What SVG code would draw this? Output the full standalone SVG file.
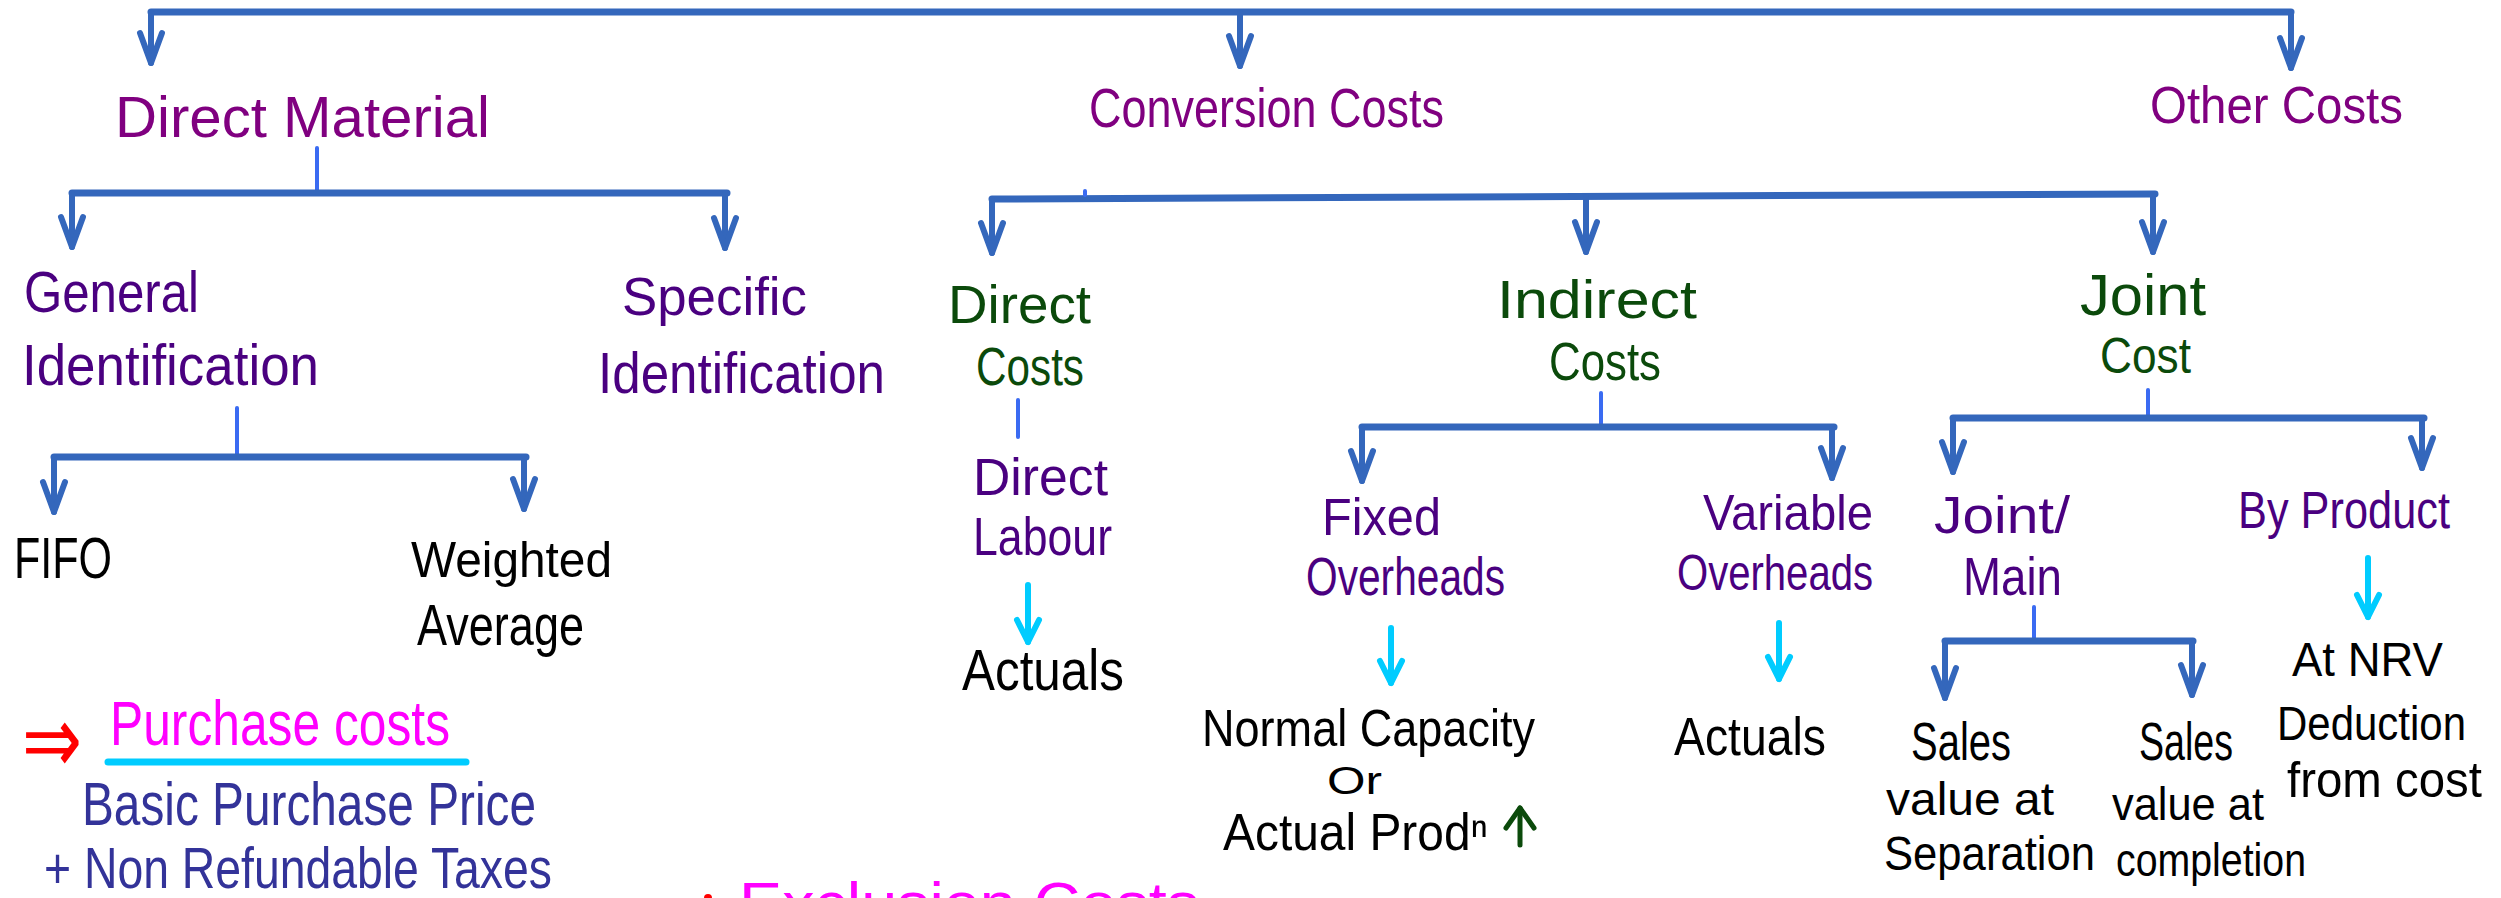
<svg xmlns="http://www.w3.org/2000/svg" width="2501" height="898" viewBox="0 0 2501 898">
<style>
text{font-family:"Liberation Sans","DejaVu Sans",Arial,sans-serif;}
.p1{fill:#800080;}
.p2{fill:#4A0080;}
.g{fill:#0B4A0B;}
.k{fill:#000000;}
.m{fill:#FF00FF;}
.b{fill:#333399;}
.bar{fill:none;stroke:#3467BC;stroke-width:7;stroke-linecap:round;stroke-linejoin:round;}
.drop{fill:none;stroke:#3467BC;stroke-width:6;stroke-linecap:round;marker-end:url(#ah);}
.stub{fill:none;stroke:#3A6BF2;stroke-width:4;stroke-linecap:round;}
.cy{fill:none;stroke:#00CCFF;stroke-width:6;stroke-linecap:round;marker-end:url(#ahc);}
.gr{fill:none;stroke:#0B4A0B;stroke-width:5;stroke-linecap:round;marker-end:url(#ahg);}
</style>
<defs>
<marker id="ah" markerUnits="userSpaceOnUse" markerWidth="40" markerHeight="40" refX="0" refY="0" orient="auto" overflow="visible">
<path d="M-30 -11 L0 0 L-30 11" fill="none" stroke="#3467BC" stroke-width="6" stroke-linecap="round" stroke-linejoin="round"/>
</marker>
<marker id="ahc" markerUnits="userSpaceOnUse" markerWidth="40" markerHeight="40" refX="0" refY="0" orient="auto" overflow="visible">
<path d="M-22 -11 L0 0 L-22 11" fill="none" stroke="#00CCFF" stroke-width="6" stroke-linecap="round" stroke-linejoin="round"/>
</marker>
<marker id="ahg" markerUnits="userSpaceOnUse" markerWidth="40" markerHeight="40" refX="0" refY="0" orient="auto" overflow="visible">
<path d="M-20 -14 L0 0 L-20 14" fill="none" stroke="#0B4A0B" stroke-width="5" stroke-linecap="round" stroke-linejoin="round"/>
</marker>
</defs>
<rect width="2501" height="898" fill="#FFFFFF"/>
<g id="connectors">
<path class="bar" d="M151 12 H2291"/>
<path class="drop" d="M151 12 V63"/>
<path class="drop" d="M1240 12 V66"/>
<path class="drop" d="M2291 12 V68"/>
<path class="stub" d="M317 148 V190"/>
<path class="bar" d="M72 193 H727"/>
<path class="drop" d="M72 193 V247"/>
<path class="drop" d="M725 193 V248"/>
<path class="stub" d="M237 408 V457"/>
<path class="bar" d="M54 457 H526"/>
<path class="drop" d="M54 457 V512"/>
<path class="drop" d="M524 457 V509"/>
<path class="bar" d="M992 199 L2155 194"/>
<path class="stub" d="M1085 191 V195"/>
<path class="drop" d="M992 199 V253"/>
<path class="drop" d="M1586 197 V252"/>
<path class="drop" d="M2153 194 V252"/>
<path class="stub" d="M1018 400 V437"/>
<path class="cy" d="M1028 585 V642"/>
<path class="stub" d="M1601 393 V427"/>
<path class="bar" d="M1362 427 H1834"/>
<path class="drop" d="M1362 427 V481"/>
<path class="drop" d="M1832 427 V478"/>
<path class="stub" d="M2148 390 V418"/>
<path class="bar" d="M1953 418 H2424"/>
<path class="drop" d="M1953 418 V472"/>
<path class="drop" d="M2422 418 V468"/>
<path class="cy" d="M1391 628 V683"/>
<path class="cy" d="M1779 623 V679"/>
<path class="stub" d="M2034 607 V641"/>
<path class="bar" d="M1945 641 H2193"/>
<path class="drop" d="M1945 641 V698"/>
<path class="drop" d="M2192 641 V695"/>
<path class="cy" d="M2368 558 V617"/>
</g>
<g id="direct-material"><text class="p1" x="115" y="137" font-size="58" textLength="375" lengthAdjust="spacingAndGlyphs">Direct Material</text></g>
<g id="conversion-costs"><text class="p1" x="1089" y="127" font-size="55" textLength="355" lengthAdjust="spacingAndGlyphs">Conversion Costs</text></g>
<g id="other-costs"><text class="p1" x="2150" y="123" font-size="52" textLength="253" lengthAdjust="spacingAndGlyphs">Other Costs</text></g>
<g id="general-identification">
<text class="p2" x="24" y="312" font-size="57" textLength="175" lengthAdjust="spacingAndGlyphs">General</text>
<text class="p2" x="22" y="385" font-size="58" textLength="297" lengthAdjust="spacingAndGlyphs">Identification</text>
</g>
<g id="specific-identification">
<text class="p2" x="622" y="315" font-size="54" textLength="185" lengthAdjust="spacingAndGlyphs">Specific</text>
<text class="p2" x="598" y="393" font-size="58" textLength="287" lengthAdjust="spacingAndGlyphs">Identification</text>
</g>
<g id="fifo"><text class="k" x="14" y="578" font-size="57" textLength="98" lengthAdjust="spacingAndGlyphs">FIFO</text></g>
<g id="weighted-average">
<text class="k" x="411" y="577" font-size="50" textLength="201" lengthAdjust="spacingAndGlyphs">Weighted</text>
<text class="k" x="417" y="645" font-size="57" textLength="167" lengthAdjust="spacingAndGlyphs">Average</text>
</g>
<g id="purchase-costs">
<text x="22" y="773" font-size="96" fill="#FF0000" style="font-family:'DejaVu Sans',sans-serif" textLength="60" lengthAdjust="spacingAndGlyphs">⇒</text>
<text class="m" x="110" y="745" font-size="63" textLength="340" lengthAdjust="spacingAndGlyphs">Purchase costs</text>
<line x1="108" y1="762" x2="466" y2="762" stroke="#00CCFF" stroke-width="7" stroke-linecap="round"/>
<text class="b" x="82" y="825" font-size="62" textLength="454" lengthAdjust="spacingAndGlyphs">Basic Purchase Price</text>
<text class="b" x="44" y="888" font-size="57" textLength="508" lengthAdjust="spacingAndGlyphs">+ Non Refundable Taxes</text>
</g>
<g id="exclusion">
<circle cx="708" cy="898" r="4" fill="#FF0000"/>
<text class="m" x="739" y="924" font-size="60" textLength="460" lengthAdjust="spacingAndGlyphs">Exclusion Costs</text>
</g>
<g id="direct-costs">
<text class="g" x="948" y="323" font-size="53" textLength="143" lengthAdjust="spacingAndGlyphs">Direct</text>
<text class="g" x="976" y="385" font-size="53" textLength="108" lengthAdjust="spacingAndGlyphs">Costs</text>
</g>
<g id="direct-labour">
<text class="p2" x="973" y="495" font-size="51" textLength="135" lengthAdjust="spacingAndGlyphs">Direct</text>
<text class="p2" x="973" y="555" font-size="54" textLength="139" lengthAdjust="spacingAndGlyphs">Labour</text>
</g>
<g id="actuals-labour"><text class="k" x="962" y="690" font-size="57" textLength="162" lengthAdjust="spacingAndGlyphs">Actuals</text></g>
<g id="indirect-costs">
<text class="g" x="1497" y="318" font-size="53" textLength="200" lengthAdjust="spacingAndGlyphs">Indirect</text>
<text class="g" x="1549" y="380" font-size="53" textLength="112" lengthAdjust="spacingAndGlyphs">Costs</text>
</g>
<g id="joint-cost">
<text class="g" x="2080" y="315" font-size="57" textLength="126" lengthAdjust="spacingAndGlyphs">Joint</text>
<text class="g" x="2100" y="373" font-size="50" textLength="91" lengthAdjust="spacingAndGlyphs">Cost</text>
</g>
<g id="fixed-overheads">
<text class="p2" x="1322" y="535" font-size="51" textLength="119" lengthAdjust="spacingAndGlyphs">Fixed</text>
<text class="p2" x="1306" y="595" font-size="54" textLength="199" lengthAdjust="spacingAndGlyphs">Overheads</text>
</g>
<g id="normal-capacity">
<text class="k" x="1202" y="746" font-size="52" textLength="333" lengthAdjust="spacingAndGlyphs">Normal Capacity</text>
<text class="k" x="1327" y="794" font-size="38" textLength="55" lengthAdjust="spacingAndGlyphs">Or</text>
<text class="k" x="1223" y="850" font-size="52" textLength="265" lengthAdjust="spacingAndGlyphs">Actual Prodⁿ</text>
<path class="gr" d="M1520 845 V808"/>
</g>
<g id="variable-overheads">
<text class="p2" x="1703" y="530" font-size="50" textLength="170" lengthAdjust="spacingAndGlyphs">Variable</text>
<text class="p2" x="1677" y="590" font-size="50" textLength="196" lengthAdjust="spacingAndGlyphs">Overheads</text>
</g>
<g id="actuals-variable"><text class="k" x="1674" y="755" font-size="54" textLength="152" lengthAdjust="spacingAndGlyphs">Actuals</text></g>
<g id="joint-main">
<text class="p2" x="1934" y="533" font-size="52" textLength="136" lengthAdjust="spacingAndGlyphs">Joint/</text>
<text class="p2" x="1963" y="595" font-size="53" textLength="99" lengthAdjust="spacingAndGlyphs">Main</text>
</g>
<g id="sales-separation">
<text class="k" x="1911" y="760" font-size="53" textLength="100" lengthAdjust="spacingAndGlyphs">Sales</text>
<text class="k" x="1886" y="815" font-size="46" textLength="168" lengthAdjust="spacingAndGlyphs">value at</text>
<text class="k" x="1884" y="870" font-size="49" textLength="211" lengthAdjust="spacingAndGlyphs">Separation</text>
</g>
<g id="sales-completion">
<text class="k" x="2139" y="760" font-size="53" textLength="94" lengthAdjust="spacingAndGlyphs">Sales</text>
<text class="k" x="2112" y="820" font-size="46" textLength="152" lengthAdjust="spacingAndGlyphs">value at</text>
<text class="k" x="2116" y="876" font-size="46" textLength="190" lengthAdjust="spacingAndGlyphs">completion</text>
</g>
<g id="by-product"><text class="p2" x="2238" y="528" font-size="51" textLength="212" lengthAdjust="spacingAndGlyphs">By Product</text></g>
<g id="at-nrv">
<text class="k" x="2292" y="676" font-size="48" textLength="151" lengthAdjust="spacingAndGlyphs">At NRV</text>
<text class="k" x="2277" y="740" font-size="49" textLength="189" lengthAdjust="spacingAndGlyphs">Deduction</text>
<text class="k" x="2287" y="797" font-size="50" textLength="195" lengthAdjust="spacingAndGlyphs">from cost</text>
</g>
</svg>
